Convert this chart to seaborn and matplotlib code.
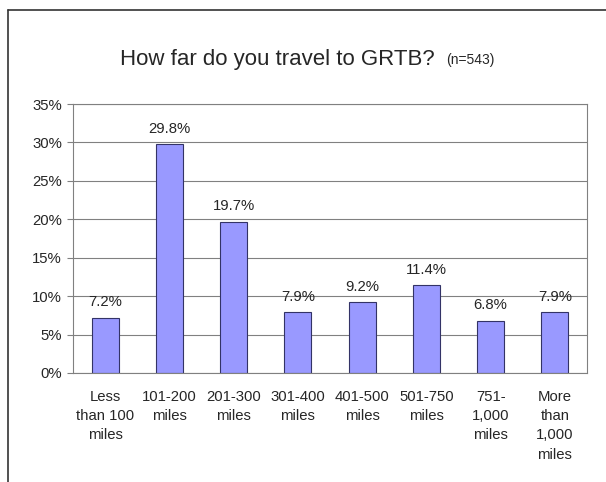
import matplotlib
matplotlib.use("Agg")
import matplotlib.pyplot as plt
import seaborn as sns
import pandas as pd
from matplotlib.lines import Line2D

categories = ["Less\nthan 100\nmiles", "101-200\nmiles", "201-300\nmiles", "301-400\nmiles",
              "401-500\nmiles", "501-750\nmiles", "751-\n1,000\nmiles", "More\nthan\n1,000\nmiles"]
values = [7.2, 29.8, 19.7, 7.9, 9.2, 11.4, 6.8, 7.9]
yticks = [0, 5, 10, 15, 20, 25, 30, 35]
ytick_labels = ["0%", "5%", "10%", "15%", "20%", "25%", "30%", "35%"]
title_main = "How far do you travel to GRTB?"
title_sub = "(n=543)"

sns.set_style("white")
plt.rcParams['font.family'] = ['Liberation Sans', 'DejaVu Sans']

df = pd.DataFrame({"cat": categories, "val": values})

fig = plt.figure(figsize=(6.06, 4.82), dpi=100)
ax = fig.add_axes([73/606, 1-373/482, (587-73)/606, (373-104)/482])

sns.barplot(data=df, x="cat", y="val", ax=ax, color="#9999FF", width=0.42,
            edgecolor="#333366", linewidth=0.8, saturation=1)

ax.set_ylim(0, 35)
ax.set_xlim(-0.5, len(categories)-0.5)
ax.set_yticks(yticks)
ax.set_yticklabels(ytick_labels, fontsize=10.7)
ax.set_xticks(range(len(categories)))
ax.set_xticklabels(categories, fontsize=10.7, linespacing=1.48, va="top")
ax.set_xlabel("")
ax.set_ylabel("")
ax.tick_params(axis="x", length=0, pad=12)
ax.tick_params(axis="y", length=4, width=0.8, color="#808080", pad=4, left=True)
ax.yaxis.grid(True, color="#808080", linewidth=0.8)
ax.set_axisbelow(True)
for s in ["left", "bottom", "right", "top"]:
    ax.spines[s].set_visible(True)
    ax.spines[s].set_color("#808080")
    ax.spines[s].set_linewidth(0.8)

for i, v in enumerate(values):
    ax.annotate(f"{v:.1f}%", (i, v), xytext=(0, 6), textcoords="offset points",
                ha="center", va="bottom", fontsize=10.7)

fig.text(120/606, 1-65/482, title_main, fontsize=16, ha="left", va="baseline")
fig.text(446/606, 1-64/482, title_sub, fontsize=10, ha="left", va="baseline")

# chart border
fig.add_artist(Line2D([8/606, 8/606], [0, 1-10/482], transform=fig.transFigure,
                      color="#333333", linewidth=1.2))
fig.add_artist(Line2D([8/606, 1], [1-10/482, 1-10/482], transform=fig.transFigure,
                      color="#333333", linewidth=1.2))

fig.savefig("out.png", dpi=100)
